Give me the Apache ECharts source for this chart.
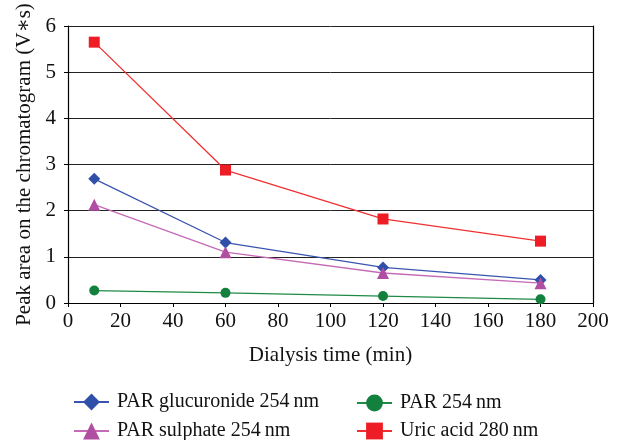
<!DOCTYPE html>
<html>
<head>
<meta charset="utf-8">
<script src="https://cdn.jsdelivr.net/npm/echarts@6/dist/echarts.min.js"></script>
<style>
html,body{margin:0;padding:0;background:#fff;}
#chart{width:619px;height:440px;}
</style>
</head>
<body>
<div id="chart"></div>
<script>
var times = [10, 60, 120, 180];
var glucuronide = [2.69, 1.31, 0.77, 0.50];
var sulphate = [2.13, 1.10, 0.65, 0.43];
var par = [0.27, 0.22, 0.15, 0.08];
var uric = [5.65, 2.88, 1.82, 1.34];
var xTicks = [0, 20, 40, 60, 80, 100, 120, 140, 160, 180, 200];
var yTicks = [0, 1, 2, 3, 4, 5, 6];
var seriesNames = ['PAR glucuronide 254\u2009nm', 'PAR sulphate 254\u2009nm', 'PAR 254\u2009nm', 'Uric acid 280\u2009nm'];

function pairs(vals) { return times.map(function (t, i) { return [t, vals[i]]; }); }

var FONT = '"Liberation Serif", "DejaVu Serif", serif';
var chart = echarts.init(document.getElementById('chart'), null, {renderer: 'canvas'});

function mk(name, vals, color, lineColor, symbol, size) {
  return {
    name: name, type: 'line', data: pairs(vals), symbol: symbol, symbolSize: size,
    itemStyle: {color: color},
    lineStyle: {color: lineColor, width: 1.3},
    emphasis: {disabled: true}, animation: false, z: 3
  };
}

function leg(name, left, top) {
  return {
    data: [name], orient: 'horizontal', left: left, top: top,
    itemWidth: 35, itemHeight: 21,
    textStyle: {fontFamily: FONT, fontSize: 20, color: '#111', padding: [0, 0, 0, 3]},
    selectedMode: false
  };
}

chart.setOption({
  backgroundColor: '#fff',
  animation: false,
  textStyle: {fontFamily: FONT},
  grid: {left: 68, right: 26, top: 26, bottom: 137, containLabel: false, outerBoundsMode: 'none'},
  xAxis: {
    type: 'value', min: xTicks[0], max: xTicks[xTicks.length - 1], interval: 20,
    name: 'Dialysis time (min)', nameLocation: 'middle', nameGap: 42,
    nameTextStyle: {fontFamily: FONT, fontSize: 21, color: '#111'},
    axisLine: {show: true, lineStyle: {color: '#000', width: 1.2}},
    axisTick: {show: true, length: 4, lineStyle: {color: '#000'}},
    axisLabel: {fontFamily: FONT, fontSize: 21, color: '#111', margin: 8},
    splitLine: {show: false}
  },
  yAxis: [{
    type: 'value', min: yTicks[0], max: yTicks[yTicks.length - 1], interval: 1,
    name: 'Peak area on the chromatogram (V\u2217s)', nameLocation: 'middle', nameGap: 31,
    nameTextStyle: {fontFamily: FONT, fontSize: 21, color: '#111'},
    axisLine: {show: true, lineStyle: {color: '#000', width: 1.2}},
    axisTick: {show: true, length: 4, lineStyle: {color: '#000'}},
    axisLabel: {fontFamily: FONT, fontSize: 21, color: '#111', margin: 12},
    splitLine: {show: true, lineStyle: {color: '#222', width: 1}}
  }, {
    type: 'value', min: 0, max: 6, interval: 1, position: 'right',
    axisLine: {show: true, lineStyle: {color: '#000', width: 1.2}},
    axisTick: {show: false}, axisLabel: {show: false}, splitLine: {show: false}
  }],
  legend: [
    leg(seriesNames[0], 68, 387),
    leg(seriesNames[1], 68, 416),
    leg(seriesNames[2], 351, 388),
    leg(seriesNames[3], 351, 416)
  ],
  series: [
    mk(seriesNames[0], glucuronide, '#2f4fa8', '#3a55b0', 'diamond', 12),
    mk(seriesNames[1], sulphate, '#b04fa2', '#c46ab6', 'triangle', 12),
    mk(seriesNames[2], par, '#13813d', '#1f8a45', 'circle', 10),
    mk(seriesNames[3], uric, '#ee1c24', '#f03030', 'rect', 11)
  ]
});
</script>
</body>
</html>
